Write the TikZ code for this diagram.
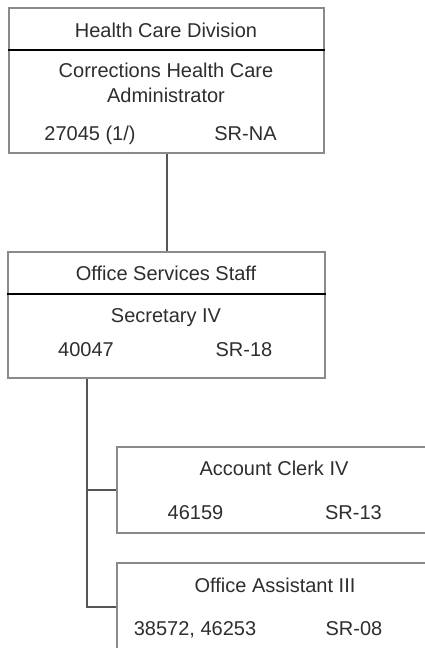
\documentclass[tikz,border=0pt]{standalone}
\usepackage{fontspec}
\setmainfont{Liberation Sans}
\definecolor{boxgray}{HTML}{8A8A8A}
\definecolor{linegray}{HTML}{555555}
\definecolor{txt}{HTML}{2E2E2E}
\tikzset{
  orgbox/.style={draw=boxgray, line width=2pt, rectangle, inner sep=0pt, fill=white},
  divider/.style={draw=black, line width=2pt},
  conn/.style={draw=linegray, line width=2pt},
  lbl/.style={text=txt, font=\fontsize{20}{24}\selectfont, inner sep=0pt, anchor=base, yshift=-7.2pt},
}
\begin{document}
\begin{tikzpicture}[x=1pt,y=-1pt]
\useasboundingbox (0,0) rectangle (425,648);
\clip (0,0) rectangle (425,648);
% boxes
\node[orgbox, minimum width=315pt, minimum height=145pt] (b1) at (166.5,80.5) {};
\node[orgbox, minimum width=317pt, minimum height=126pt] (b2) at (166.5,315) {};
\node[orgbox, minimum width=320pt, minimum height=86pt] (b3) at (277,490) {};
\node[orgbox, minimum width=320pt, minimum height=88pt] (b4) at (277,607) {};
% dividers
\draw[divider] (b1.west |- 0,50) -- (b1.east |- 0,50);
\draw[divider] (b2.west |- 0,293.5) -- (b2.east |- 0,293.5);
% connectors
\coordinate (vx) at (87,0);
\draw[conn] (b1.south) -- (b2.north);
\draw[conn] (b2.south -| vx) |- (b3.west);
\draw[conn] (b2.south -| vx) |- (b4.west);
% texts box 1
\node[lbl] (t11) at (166,30) {Health Care Division};
\node[lbl] (t12) at (166,70) {Corrections Health Care};
\node[lbl] (t13) at (166,95) {Administrator};
\node[lbl] (t14) at (90,133) {27045 (1/)};
\node[lbl] (t15) at (245.5,133) {SR-NA};
% texts box 2
\node[lbl] (t21) at (166,273) {Office Services Staff};
\node[lbl] (t22) at (166,315) {Secretary IV};
\node[lbl] (t23) at (86,349) {40047};
\node[lbl] (t24) at (244,349) {SR-18};
% texts box 3
\node[lbl] (t31) at (274,468) {Account Clerk IV};
\node[lbl] (t32) at (195.5,512) {46159};
\node[lbl] (t33) at (353.5,512) {SR-13};
% texts box 4
\node[lbl] (t41) at (275,585) {Office Assistant III};
\node[lbl] (t42) at (195,628) {38572, 46253};
\node[lbl] (t43) at (354,628) {SR-08};
\end{tikzpicture}
\end{document}
